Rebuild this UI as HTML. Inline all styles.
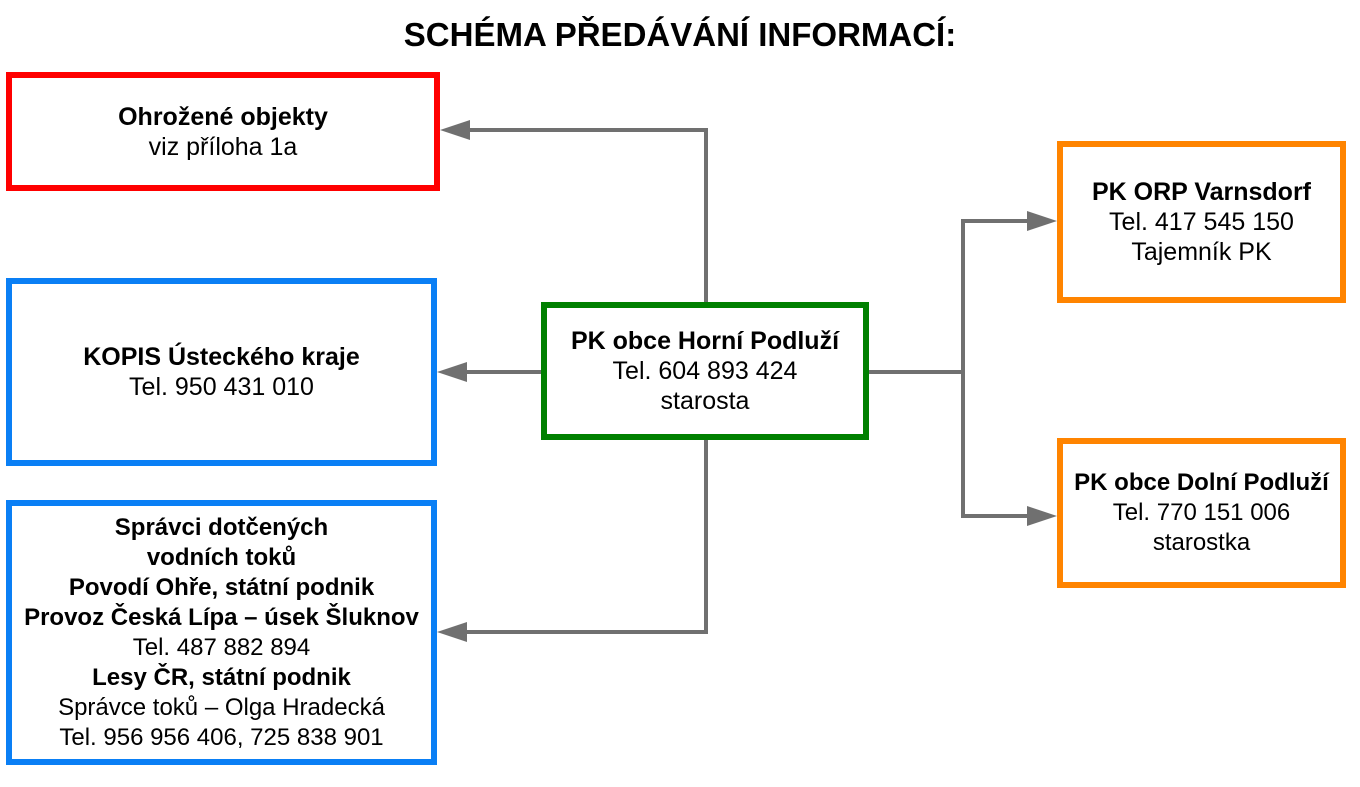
<!DOCTYPE html>
<html><head><meta charset="utf-8"><style>
body{margin:0;width:1360px;height:787px;background:#fff;position:relative;font-family:"Liberation Sans",sans-serif;overflow:hidden}
.t{position:absolute;left:0;width:1360px;top:15px;text-align:center;font-weight:bold;font-size:33px;line-height:40px}
.b{position:absolute;box-sizing:border-box;border:6px solid;display:flex;flex-direction:column;justify-content:center;align-items:center;text-align:center;font-size:25px;line-height:30px;color:#000;white-space:nowrap}
b{font-weight:bold}
svg{position:absolute;left:0;top:0}
</style></head><body>
<div class="t">SCHÉMA PŘEDÁVÁNÍ INFORMACÍ:</div>
<svg width="1360" height="787">
<g stroke="#707070" stroke-width="4" fill="none">
<polyline points="706,302 706,130 468,130"/>
<polyline points="541,372 466,372"/>
<polyline points="706,440 706,632 466,632"/>
<polyline points="869,372 963,372"/>
<polyline points="1029,221 963,221 963,516 1029,516"/>
</g>
<g fill="#707070">
<polygon points="440,130 470,120 470,140"/>
<polygon points="437,372 467,362 467,382"/>
<polygon points="437,632 467,622 467,642"/>
<polygon points="1057,221 1027,211 1027,231"/>
<polygon points="1057,516 1027,506 1027,526"/>
</g>
</svg>
<div class="b" style="left:6px;top:72px;width:434px;height:119px;border-color:#ff0000"><b>Ohrožené objekty</b>viz příloha 1a</div>
<div class="b" style="left:6px;top:278px;width:431px;height:188px;border-color:#0a7ff5"><b>KOPIS Ústeckého kraje</b>Tel. 950 431 010</div>
<div class="b" style="left:6px;top:500px;width:431px;height:265px;border-color:#0a7ff5;font-size:24px"><b>Správci dotčených</b><b>vodních toků</b><b>Povodí Ohře, státní podnik</b><b>Provoz Česká Lípa – úsek Šluknov</b>Tel. 487 882 894<b>Lesy ČR, státní podnik</b>Správce toků – Olga Hradecká<span>Tel. 956 956 406, 725 838 901</span></div>
<div class="b" style="left:541px;top:302px;width:328px;height:138px;border-color:#008000"><b>PK obce Horní Podluží</b>Tel. 604 893 424<span>starosta</span></div>
<div class="b" style="left:1057px;top:141px;width:289px;height:162px;border-color:#ff8400;justify-content:flex-start;padding-top:30px"><b>PK ORP Varnsdorf</b>Tel. 417 545 150<span>Tajemník PK</span></div>
<div class="b" style="left:1057px;top:438px;width:289px;height:150px;border-color:#ff8400;font-size:24px"><b>PK obce Dolní Podluží</b>Tel. 770 151 006<span>starostka</span></div>
</body></html>
